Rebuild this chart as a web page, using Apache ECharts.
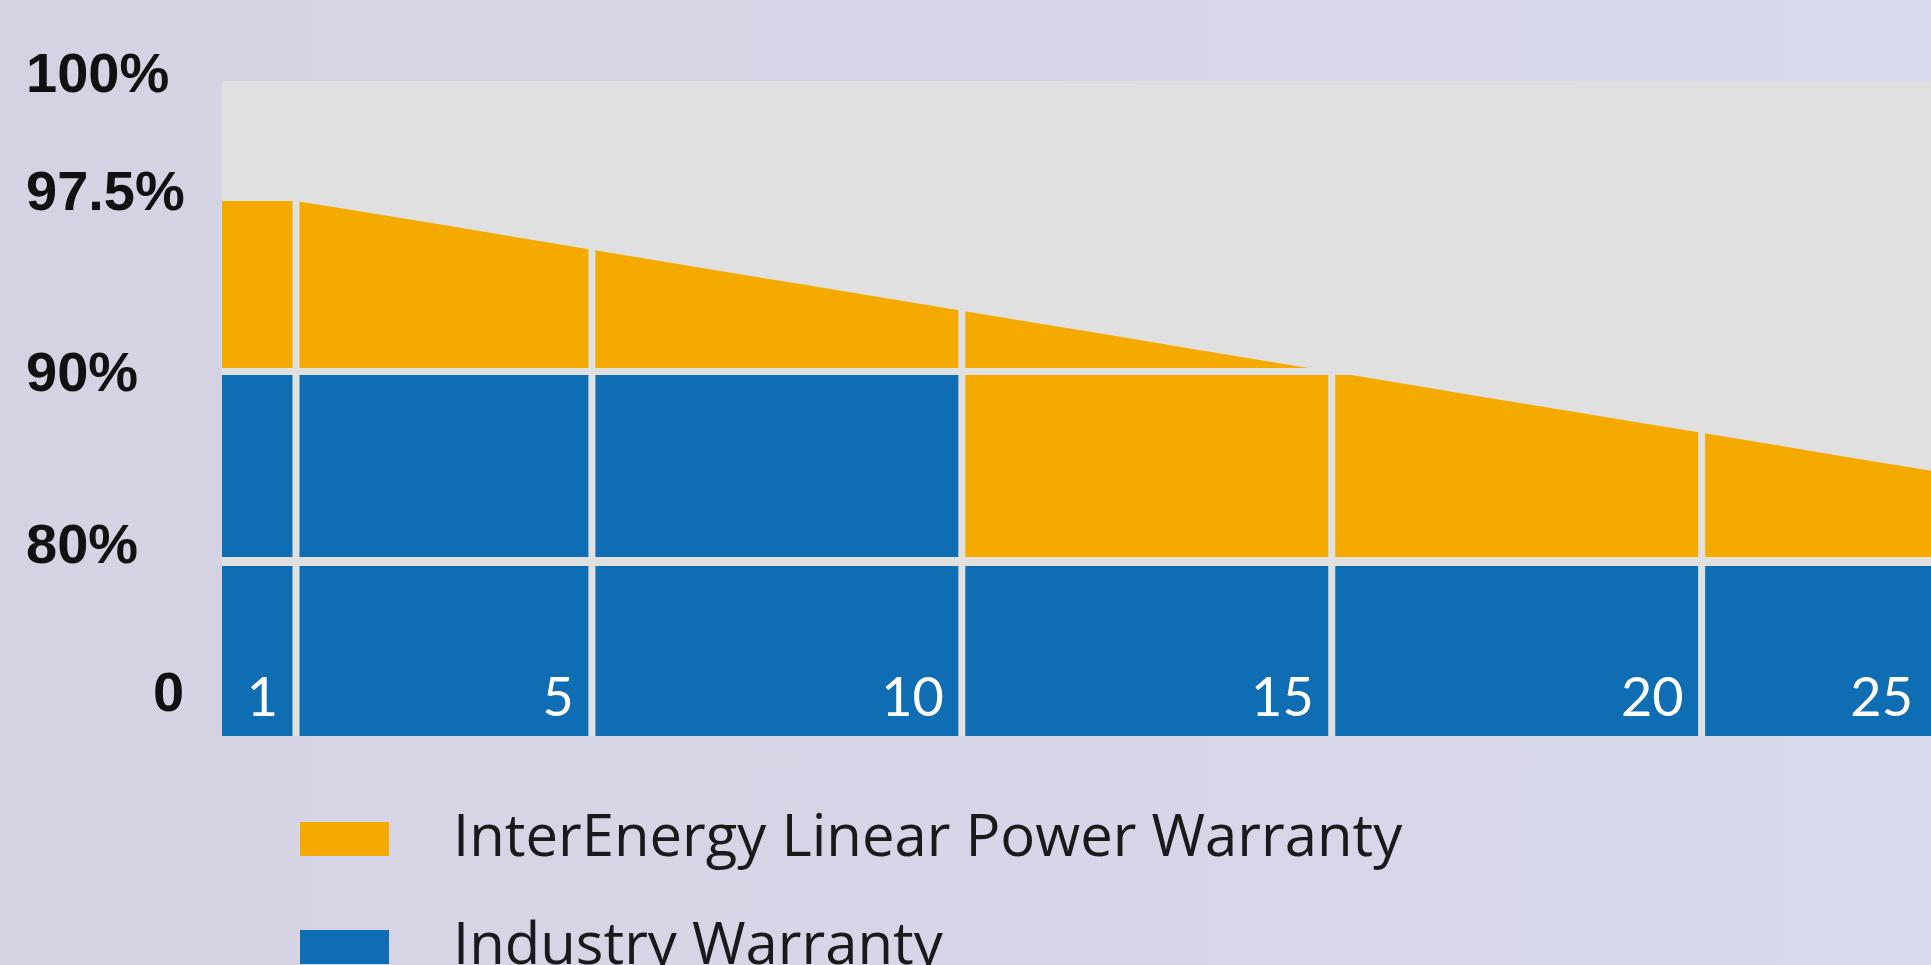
<!DOCTYPE html>
<html>
<head>
<meta charset="utf-8">
<title>Linear Power Warranty</title>
<script src="https://cdn.jsdelivr.net/npm/echarts@6/dist/echarts.min.js"></script>
<style>
  html, body { margin: 0; padding: 0; }
  #chart {
    width: 1931px;
    height: 965px;
    background: linear-gradient(90deg, #d5d3e3 0%, #d7d6e8 55%, #d8d9ec 100%);
  }
</style>
</head>
<body>
<div id="chart"></div>
<script>
// warranty years
const years = [1, 2, 3, 4, 5, 6, 7, 8, 9, 10, 11, 12, 13, 14, 15, 16, 17, 18, 19, 20, 21, 22, 23, 24, 25];
// InterEnergy linear power warranty, % of power at the end of each year
const interEnergy = [97.5, 96.97, 96.44, 95.89, 95.36, 94.82, 94.28, 93.75, 93.21, 92.67, 92.13, 91.6, 91.06,
  90.52, 89.98, 89.34, 88.69, 88.05, 87.41, 86.77, 86.13, 85.48, 84.84, 84.19, 83.55];
// usual industry warranty (90% for 10 years, 80% for 25 years)
const industry = [90, 90, 90, 90, 90, 90, 90, 90, 90, 90, 80, 80, 80, 80, 80,
  80, 80, 80, 80, 80, 80, 80, 80, 80, 80];
// blocks the period is cut into, labelled by their last year
const blockEnds = [1, 5, 10, 15, 20, 25];
// labelled levels on the y axis
const levelValues = [0, 80, 90, 97.5, 100];
const levelLabels = ['0', '80%', '90%', '97.5%', '100%'];

const ORANGE = '#f5aa00';
const BLUE = '#0f6eb3';
const GAP = '#e0e0e0';
const NAME_INTER = 'InterEnergy Linear Power Warranty';
const NAME_INDUSTRY = 'Industry Warranty';

// the y axis is not linear: each labelled level has its own place on a 0-100 track
const levelTrack = [0, 26.64, 55.65, 81.68, 100];
function warp(v) {
  for (let i = 0; i < levelValues.length - 1; i++) {
    const a = levelValues[i], b = levelValues[i + 1];
    if (v <= b || i === levelValues.length - 2) {
      return levelTrack[i] + (v - a) / (b - a) * (levelTrack[i + 1] - levelTrack[i]);
    }
  }
}

// only the first ~23 years fit in the picture, the last block is cut by the edge
const X_MAX = 23.1;
const blockStarts = blockEnds.map((e, i) => (i === 0 ? 0 : blockEnds[i - 1]));

// top of the InterEnergy band at year boundary y (flat during the first year)
const topAt = (y) => interEnergy[Math.max(y, 1) - 1];

const industryBlock = (params, api) => {
  const i = api.value(0);
  const a = blockStarts[i], b = blockEnds[i];
  const pts = [api.coord([a, warp(0)])];
  for (let y = a + 1; y <= b; y++) {
    const v = warp(industry[years.indexOf(y)]);
    pts.push(api.coord([y - 1, v]), api.coord([y, v]));
  }
  pts.push(api.coord([b, warp(0)]));
  return { type: 'polygon', shape: { points: pts }, style: { fill: BLUE } };
};

const interBlock = (params, api) => {
  const i = api.value(0);
  const a = blockStarts[i], b = blockEnds[i];
  const pts = [];
  for (let y = a; y <= b; y++) pts.push(api.coord([y, warp(topAt(y))]));
  for (let y = b; y > a; y--) {
    const v = warp(industry[years.indexOf(y)]);
    pts.push(api.coord([y, v]), api.coord([y - 1, v]));
  }
  return { type: 'polygon', shape: { points: pts }, style: { fill: ORANGE } };
};

// light separators between the blocks and along the 80% / 90% levels
const gapLines = [[0, 80], [0, 90]].concat(blockEnds.slice(0, -1).map((e) => [1, e]));
const gapLine = (params, api) => {
  const kind = api.value(0), at = api.value(1);
  let p1, p2, w;
  if (kind === 0) {
    p1 = api.coord([0, warp(at)]);
    p2 = api.coord([X_MAX, warp(at)]);
    w = at === 80 ? 9 : 7;
  } else {
    p1 = api.coord([at, warp(0)]);
    p2 = api.coord([at, warp(100)]);
    w = 7;
  }
  return {
    type: 'line',
    shape: { x1: p1[0], y1: p1[1], x2: p2[0], y2: p2[1] },
    style: { stroke: GAP, lineWidth: w }
  };
};

const yearLabel = (params, api) => {
  const end = api.value(0);
  const p = api.coord([Math.min(end, X_MAX), warp(0)]);
  return {
    type: 'text',
    x: p[0] - 18,
    y: p[1] - 37,
    style: {
      text: String(end),
      fill: '#ffffff',
      font: '54px Lato',
      align: 'right',
      verticalAlign: 'middle'
    }
  };
};

const legendBase = {
  orient: 'vertical',
  left: 300,
  padding: 0,
  icon: 'rect',
  itemWidth: 89,
  itemHeight: 34,
  selectedMode: false,
  textStyle: {
    fontFamily: 'Open Sans',
    fontSize: 58,
    color: '#1a1a1a',
    padding: [0, 0, 0, 59]
  }
};

const chart = echarts.init(document.getElementById('chart'));

chart.setOption({
  animation: false,
  grid: {
    left: 222,
    right: 0,
    top: 81,
    bottom: 229,
    show: true,
    backgroundColor: GAP,
    borderWidth: 0
  },
  legend: [
    Object.assign({}, legendBase, { top: 810, data: [NAME_INTER] }),
    Object.assign({}, legendBase, { top: 918, data: [NAME_INDUSTRY] })
  ],
  xAxis: {
    type: 'value',
    min: 0,
    max: X_MAX,
    show: false
  },
  yAxis: {
    type: 'value',
    min: 0,
    max: 100,
    axisLine: { show: false },
    axisTick: { show: false },
    splitLine: { show: false },
    axisLabel: {
      customValues: levelTrack,
      showMinLabel: true,
      showMaxLabel: true,
      hideOverlap: false,
      align: 'left',
      margin: 196,
      fontFamily: 'Liberation Sans',
      fontWeight: 'bold',
      fontSize: 56,
      color: '#111111',
      formatter: (value) => {
        let best = 0;
        levelTrack.forEach((t, i) => {
          if (Math.abs(t - value) < Math.abs(levelTrack[best] - value)) best = i;
        });
        return '{l' + best + '|' + levelLabels[best] + '}';
      },
      rich: {
        l0: { padding: [0, 0, 80, 127] },
        l1: { padding: [0, 0, 28, 0] },
        l2: { padding: [8, 0, 0, 0] },
        l3: { padding: [0, 0, 12, 0] },
        l4: { padding: [0, 0, 8, 0] }
      }
    }
  },
  series: [
    {
      name: NAME_INDUSTRY,
      type: 'custom',
      clip: true,
      itemStyle: { color: BLUE },
      renderItem: industryBlock,
      data: blockEnds.map((e, i) => [i, e])
    },
    {
      name: NAME_INTER,
      type: 'custom',
      clip: true,
      itemStyle: { color: ORANGE },
      renderItem: interBlock,
      data: blockEnds.map((e, i) => [i, e])
    },
    {
      name: 'gaps',
      type: 'custom',
      clip: true,
      silent: true,
      renderItem: gapLine,
      data: gapLines
    },
    {
      name: 'year labels',
      type: 'custom',
      silent: true,
      renderItem: yearLabel,
      data: blockEnds.map((e) => [e])
    }
  ]
});
</script>
</body>
</html>
